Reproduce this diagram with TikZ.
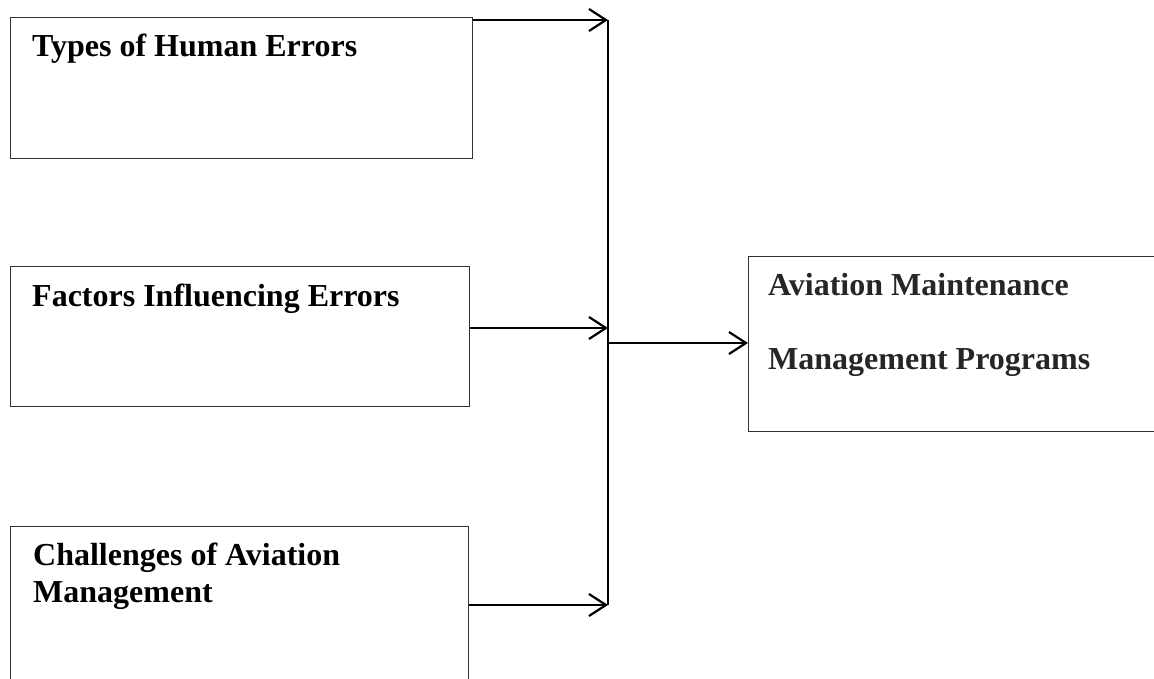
\documentclass[tikz,border=0pt]{standalone}
\usepackage{fontspec}
\setmainfont{Liberation Serif}
\usetikzlibrary{arrows.meta}
\tikzset{
  box/.style={draw=black!80, line width=1.3pt, rectangle, inner sep=0pt, anchor=north west},
  lbl/.style={font=\bfseries\fontsize{32}{37}\selectfont, inner sep=0pt, anchor=base west, align=left, text=black},
  lblr/.style={lbl, text=black!85},
  arr/.style={line width=2.6pt, -{Straight Barb[length=17pt,width=22pt,line width=2.2pt]}},
  vline/.style={line width=1.8pt}
}
\begin{document}
\begin{tikzpicture}[x=1pt,y=-1pt]
\useasboundingbox (0,0) rectangle (1154,679);
\clip (0,0) rectangle (1154,679);
\node[box, minimum width=462pt, minimum height=141pt] (b1) at (10,17) {};
\node[box, minimum width=459pt, minimum height=140pt] (b2) at (10,266) {};
\node[box, minimum width=458pt, minimum height=180pt] (b3) at (10,526) {};
\node[box, minimum width=420pt, minimum height=175pt] (b4) at (748,256) {};
\node[lbl] (t1) at (32,57) {Types of Human Errors};
\node[lbl] (t2) at (32,306) {Factors Influencing Errors};
\node[lbl] (t3) at (33,602) {Challenges of Aviation\\Management};
\node[lblr] (t4a) at (768,295) {Aviation Maintenance};
\node[lblr] (t4b) at (768,369) {Management Programs};
\coordinate (j1) at (608,20);
\coordinate (j2) at (608,328);
\coordinate (j3) at (608,605);
\coordinate (jo) at (608,343);
\draw[vline] (j1) -- (j3);
\draw[arr] (b1.east |- j1) -- (j1);
\draw[arr] (b2.east |- j2) -- (j2);
\draw[arr] (b3.east |- j3) -- (j3);
\draw[arr] (jo) -- (b4.west |- jo);
\end{tikzpicture}
\end{document}
